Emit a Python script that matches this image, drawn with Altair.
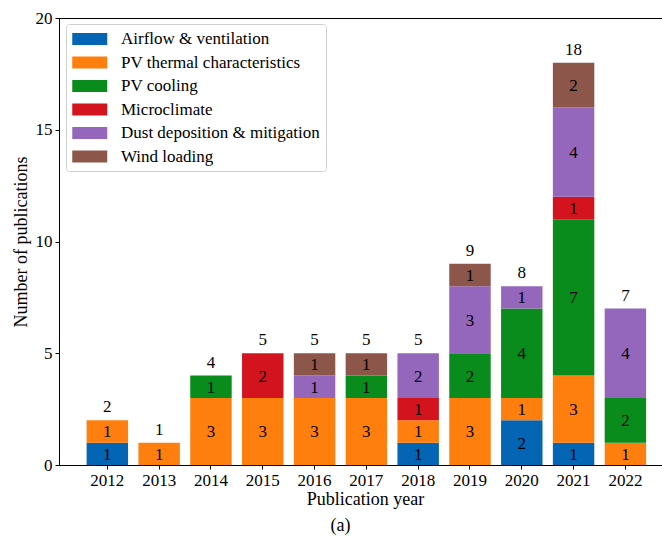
import altair as alt
import pandas as pd

years = ["2012", "2013", "2014", "2015", "2016", "2017", "2018", "2019", "2020", "2021", "2022"]
categories = ["Airflow & ventilation", "PV thermal characteristics", "PV cooling",
              "Microclimate", "Dust deposition & mitigation", "Wind loading"]
airflow = [1, 0, 0, 0, 0, 0, 1, 0, 2, 1, 0]
pv_thermal = [1, 1, 3, 3, 3, 3, 1, 3, 1, 3, 1]
pv_cooling = [0, 0, 1, 0, 0, 1, 0, 2, 4, 7, 2]
microclimate = [0, 0, 0, 2, 0, 0, 1, 0, 0, 1, 0]
dust = [0, 0, 0, 0, 1, 0, 2, 3, 1, 4, 4]
wind = [0, 0, 0, 0, 1, 1, 0, 1, 0, 2, 0]
colors = ["#0565b5", "#ff7f0e", "#098c1b", "#d3141f", "#9467bd", "#8c564b"]

series = [airflow, pv_thermal, pv_cooling, microclimate, dust, wind]
rows = []
for ci, (cat, vals) in enumerate(zip(categories, series)):
    for y, v in zip(years, vals):
        if v > 0:
            rows.append({"year": y, "category": cat, "count": v, "order": ci})
df = pd.DataFrame(rows)

FONT = "Liberation Serif"

x_enc = alt.X("year:N", sort=years,
              scale=alt.Scale(paddingInner=0.2, paddingOuter=0.42, align=0.635),
              axis=alt.Axis(title="Publication year", labelAngle=0, titleX=306, titleY=39,
                            titleBaseline="alphabetic"))
y_scale = alt.Scale(domain=[0, 20], nice=False)

bars = alt.Chart(df).mark_bar().encode(
    x=x_enc,
    y=alt.Y("sum(count):Q", scale=y_scale,
            axis=alt.Axis(title="Number of publications", values=[0, 5, 10, 15, 20], grid=False)),
    color=alt.Color("category:N", scale=alt.Scale(domain=categories, range=colors),
                    legend=alt.Legend(title=None, orient="none", legendX=7, legendY=6,
                                      symbolType="M-1,-0.68H3V0.68H-1Z", symbolSize=306,
                                      symbolStrokeWidth=0, symbolOpacity=1,
                                      labelFont=FONT, labelFontSize=17, labelColor="black",
                                      labelLimit=0, labelOffset=31, padding=6, rowPadding=6.5,
                                      strokeColor="#d0d0d0", fillColor="white",
                                      cornerRadius=3)),
    order=alt.Order("order:Q", sort="ascending"),
)

seg_text = alt.Chart(df).transform_stack(
    stack="count", groupby=["year"], sort=[alt.SortField("order", "ascending")], as_=["y0", "y1"]
).transform_calculate(
    mid="(datum.y0 + datum.y1) / 2"
).mark_text(font=FONT, fontSize=17, color="black", baseline="middle", dy=1).encode(
    x=alt.X("year:N", sort=years),
    y=alt.Y("mid:Q", scale=y_scale),
    text=alt.Text("count:Q"),
)

tot_text = alt.Chart(df).transform_aggregate(
    total="sum(count)", groupby=["year"]
).mark_text(font=FONT, fontSize=17, color="black", baseline="alphabetic", dy=-8).encode(
    x=alt.X("year:N", sort=years),
    y=alt.Y("total:Q", scale=y_scale),
    text=alt.Text("total:Q"),
)

chart = alt.layer(bars, seg_text, tot_text).properties(
    width=603, height=447,
    padding={"left": 59, "top": 18, "right": 0, "bottom": 74},
    autosize=alt.AutoSizeParams(type="none"),
    title=alt.TitleParams("(a)", orient="bottom", anchor="middle", font=FONT, fontSize=18,
                          fontWeight="normal", color="black", dx=-20, offset=9),
).configure(font=FONT).configure_view(stroke="black", strokeWidth=1).configure_axis(
    labelFont=FONT, labelFontSize=17, labelColor="black",
    titleFont=FONT, titleFontSize=18, titleFontWeight="normal", titleColor="black",
    domainColor="black", tickColor="black", tickSize=4, labelPadding=3,
).configure_axisY(titlePadding=5)

chart.save("out.html", embed_options={"renderer": "svg", "actions": False})
